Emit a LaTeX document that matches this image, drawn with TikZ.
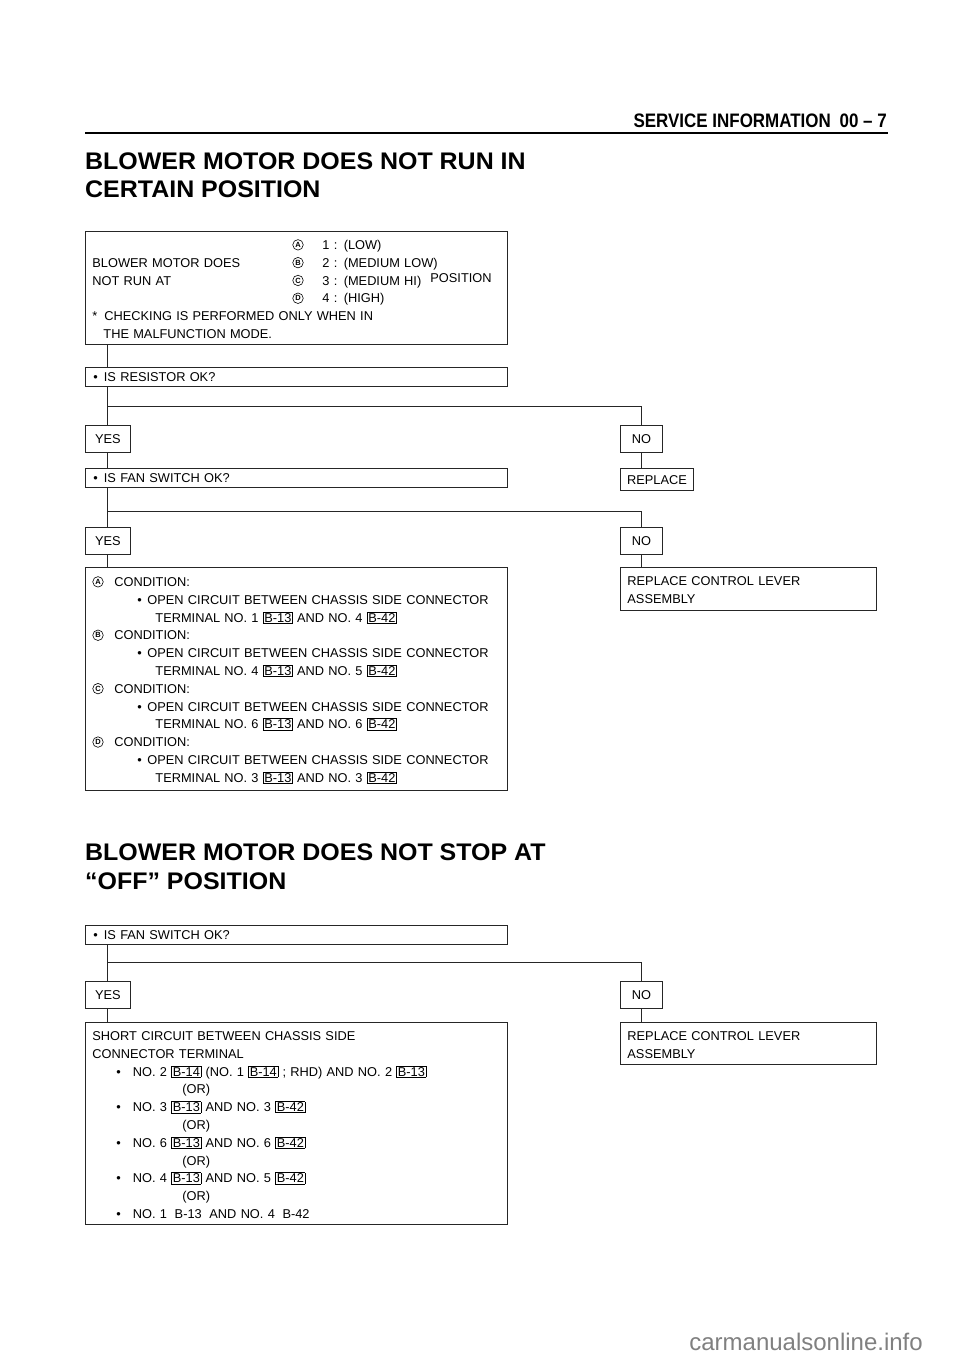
\documentclass[tikz,border=0pt]{standalone}
\usepackage{fontspec}
\setmainfont{Liberation Sans}
\newfontfamily\headfont[FakeStretch=0.87]{Liberation Sans}
\newfontfamily\titlefont[FakeStretch=1.04]{Liberation Sans}
\usetikzlibrary{positioning}

\newcommand{\circl}[1]{\tikz[baseline={([yshift=-4.6pt]cl.center)}]\node[draw, circle, line width=0.6pt, minimum size=10.5pt, inner sep=0pt, font=\fontsize{7.5}{7.5}\selectfont\bfseries] (cl) {#1};}
\newcommand{\conn}[1]{{\setlength{\fboxsep}{0.8pt}\setlength{\fboxrule}{0.7pt}\fbox{#1}}}
\newcommand{\posrow}[3]{\makebox[200pt][l]{#1}\makebox[30pt][l]{\circl{#2}}#3}

\begin{document}
\begin{tikzpicture}[x=1pt,y=-1pt,
	every node/.style={font=\fontsize{12.8}{17.8}\selectfont},
	tagbox/.style={draw=black!85, line width=0.9pt, anchor=north west, inner sep=0pt, text height=9.2pt, text depth=0pt},
	qbox/.style={tagbox, minimum height=19pt, text width=406pt, inner xsep=8pt, align=left},
	bigbox/.style={draw=black!85, line width=0.9pt, anchor=north west, inner xsep=7pt, align=left},
	titletxt/.style={anchor=base west, inner sep=0pt, font=\titlefont\bfseries\fontsize{24}{24}\selectfont},
	link/.style={draw=black!85, line width=0.9pt}]
	\fill[white] (0,0) rectangle (960,1358);
	\useasboundingbox (0,0) rectangle (960,1358);
	% page head
	\node[anchor=base east, inner sep=0pt, font=\headfont\bfseries\fontsize{19.5}{19.5}\selectfont] (head) at (887,127) {SERVICE INFORMATION\hspace{0.45em}00 – 7};
	\draw[line width=1.8pt] (85,133) -- (888,133);
	\coordinate (sp) at (107,0);
	% first chart
	\node[titletxt] (title1) at (85,169) {BLOWER MOTOR DOES NOT RUN IN};
	\node[titletxt] (title1b) at (85,197) {CERTAIN POSITION};
	\node[bigbox, text width=408pt, inner ysep=6pt] (q0) at (85,231) {\rule{0pt}{12pt}\posrow{}{A}{1 : (LOW)}\\
		\posrow{BLOWER MOTOR DOES}{B}{2 : (MEDIUM LOW)}\\
		\posrow{NOT RUN AT}{C}{\makebox[108pt][l]{3 : (MEDIUM HI)}\raisebox{3pt}{POSITION}}\\
		\posrow{}{D}{4 : (HIGH)}\\
		{*}\hspace{7pt}CHECKING IS PERFORMED ONLY WHEN IN\\
		\hspace*{11pt}THE MALFUNCTION MODE.};
	\node[qbox] (q1) at (85,367) {\textbullet\hspace{6pt}IS RESISTOR OK?};
	\coordinate (b1) at (107,406);
	\node[tagbox, minimum width=45pt, minimum height=27pt] (yes1) at (85,425) {YES};
	\node[tagbox, minimum width=42pt, minimum height=27pt] (no1) at (620,425) {NO};
	\node[qbox] (q2) at (85,468) {\textbullet\hspace{6pt}IS FAN SWITCH OK?};
	\node[tagbox, minimum width=73pt, minimum height=22pt] (rep1) at (620,468) {REPLACE};
	\coordinate (b2) at (107,511);
	\node[tagbox, minimum width=45pt, minimum height=27pt] (yes2) at (85,527) {YES};
	\node[tagbox, minimum width=42pt, minimum height=27pt] (no2) at (620,527) {NO};
	\node[bigbox, text width=408pt, inner ysep=7pt] (cond) at (85,567) {\rule{0pt}{12pt}\makebox[22pt][l]{\circl{A}}CONDITION:\\
		\hspace*{45pt}\textbullet\hspace{5.5pt}OPEN CIRCUIT BETWEEN CHASSIS SIDE CONNECTOR\\
		\hspace*{63pt}TERMINAL NO. 1 \conn{B-13} AND NO. 4 \conn{B-42}\\
		\makebox[22pt][l]{\circl{B}}CONDITION:\\
		\hspace*{45pt}\textbullet\hspace{5.5pt}OPEN CIRCUIT BETWEEN CHASSIS SIDE CONNECTOR\\
		\hspace*{63pt}TERMINAL NO. 4 \conn{B-13} AND NO. 5 \conn{B-42}\\
		\makebox[22pt][l]{\circl{C}}CONDITION:\\
		\hspace*{45pt}\textbullet\hspace{5.5pt}OPEN CIRCUIT BETWEEN CHASSIS SIDE CONNECTOR\\
		\hspace*{63pt}TERMINAL NO. 6 \conn{B-13} AND NO. 6 \conn{B-42}\\
		\makebox[22pt][l]{\circl{D}}CONDITION:\\
		\hspace*{45pt}\textbullet\hspace{5.5pt}OPEN CIRCUIT BETWEEN CHASSIS SIDE CONNECTOR\\
		\hspace*{63pt}TERMINAL NO. 3 \conn{B-13} AND NO. 3 \conn{B-42}};
	\node[bigbox, text width=242pt, inner ysep=6.5pt] (lev1) at (620,567) {\rule{0pt}{12pt}REPLACE CONTROL LEVER\\ASSEMBLY};
	% second chart
	\node[titletxt] (title2) at (85,860) {BLOWER MOTOR DOES NOT STOP AT};
	\node[titletxt] (title2b) at (85,889) {“OFF” POSITION};
	\node[qbox] (q3) at (85,925) {\textbullet\hspace{6pt}IS FAN SWITCH OK?};
	\coordinate (b3) at (107,962);
	\node[tagbox, minimum width=45pt, minimum height=27pt] (yes3) at (85,981) {YES};
	\node[tagbox, minimum width=42pt, minimum height=27pt] (no3) at (620,981) {NO};
	\node[bigbox, text width=408pt, inner ysep=6pt] (short) at (85,1022) {\rule{0pt}{12pt}SHORT CIRCUIT BETWEEN CHASSIS SIDE\\
		CONNECTOR TERMINAL\\
		\hspace*{24pt}\textbullet\hspace{12pt}NO. 2 \conn{B-14} (NO. 1 \conn{B-14} ; RHD) AND NO. 2 \conn{B-13}\\
		\hspace*{90pt}(OR)\\
		\hspace*{24pt}\textbullet\hspace{12pt}NO. 3 \conn{B-13} AND NO. 3 \conn{B-42}\\
		\hspace*{90pt}(OR)\\
		\hspace*{24pt}\textbullet\hspace{12pt}NO. 6 \conn{B-13} AND NO. 6 \conn{B-42}\\
		\hspace*{90pt}(OR)\\
		\hspace*{24pt}\textbullet\hspace{12pt}NO. 4 \conn{B-13} AND NO. 5 \conn{B-42}\\
		\hspace*{90pt}(OR)\\
		\hspace*{24pt}\textbullet\hspace{12pt}NO. 1\hspace{0.6em}B-13\hspace{0.6em}AND NO. 4\hspace{0.6em}B-42};
	\node[bigbox, text width=242pt, inner ysep=6pt] (lev2) at (620,1022) {\rule{0pt}{12pt}REPLACE CONTROL LEVER\\ASSEMBLY};
	% connectors
	\draw[link] (q0.south -| sp) -- (q1.north -| sp);
	\draw[link] (q1.south -| sp) -- (yes1.north -| sp);
	\draw[link] (b1) -| (no1.north);
	\draw[link] (yes1.south -| sp) -- (q2.north -| sp);
	\draw[link] (no1.south) -- (no1.south |- rep1.north);
	\draw[link] (q2.south -| sp) -- (yes2.north -| sp);
	\draw[link] (b2) -| (no2.north);
	\draw[link] (yes2.south -| sp) -- (cond.north -| sp);
	\draw[link] (no2.south) -- (no2.south |- lev1.north);
	\draw[link] (q3.south -| sp) -- (yes3.north -| sp);
	\draw[link] (b3) -| (no3.north);
	\draw[link] (yes3.south -| sp) -- (short.north -| sp);
	\draw[link] (no3.south) -- (no3.south |- lev2.north);
	\node[anchor=base east, inner sep=0pt, text=black!50, font=\fontsize{24}{24}\selectfont] (mark) at (923,1350) {carmanualsonline.info};
\end{tikzpicture}
\end{document}
